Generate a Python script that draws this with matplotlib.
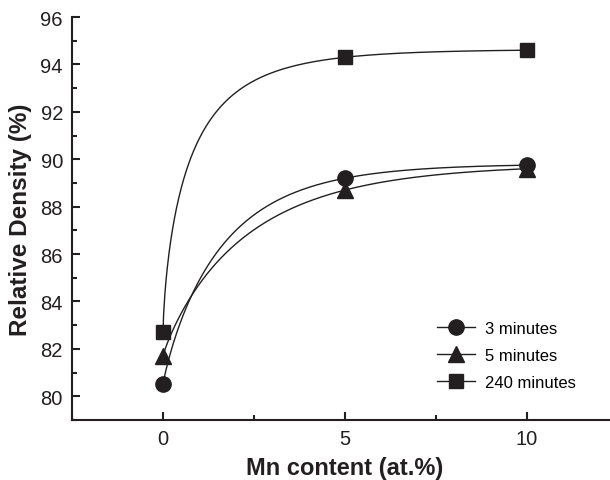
import numpy as np
import matplotlib
matplotlib.use("Agg")
import matplotlib.pyplot as plt
from matplotlib.ticker import MultipleLocator

plt.rcParams['font.family'] = ['Liberation Sans', 'DejaVu Sans']

# data
mn_content = [0, 5, 10]
dens_3min = [80.5, 89.2, 89.75]
dens_5min = [81.7, 88.7, 89.6]
dens_240min = [82.7, 94.3, 94.6]
labels = ['3 minutes', '5 minutes', '240 minutes']
markers = ['o', '^', 's']
msizes = [11, 11.5, 9.5]
fit_power = [0.9, 0.9, 0.7]   # shape of the smooth fit line


def stretched_exp(x, y, p, xs):
    # y0 + A*(1 - exp(-k*x^p)) passing through the three points
    u = np.asarray(x, float) ** p
    target = (y[1] - y[0]) / (y[2] - y[0])
    lo, hi = 1e-6, 50.0
    for _ in range(200):
        k = (lo + hi) / 2
        f = (1 - np.exp(-k * u[1])) / (1 - np.exp(-k * u[2]))
        if f < target:
            lo = k
        else:
            hi = k
    A = (y[1] - y[0]) / (1 - np.exp(-k * u[1]))
    return y[0] + A * (1 - np.exp(-k * xs ** p))


fig = plt.figure(figsize=(6.1, 4.81), dpi=100)
ax = fig.add_axes([72 / 610, 60 / 481, 546 / 610, 403 / 481])

xs = np.linspace(0, 10, 600)
series = [dens_3min, dens_5min, dens_240min]

for ys, p, lab, m, ms in zip(series, fit_power, labels, markers, msizes):
    ax.plot(xs, stretched_exp(mn_content, ys, p, xs), color='#231f20',
            lw=1.0, zorder=2)
    ax.plot(mn_content, ys, linestyle='none', marker=m, ms=ms,
            color='#231f20', zorder=3)
    ax.plot([], [], color='#231f20', lw=1.0, marker=m, ms=ms, label=lab)

ax.set_xlim(-2.5, 12.5)
ax.set_ylim(79, 96)
ax.xaxis.set_major_locator(MultipleLocator(5))
ax.xaxis.set_minor_locator(MultipleLocator(2.5))
ax.yaxis.set_major_locator(MultipleLocator(2))
ax.yaxis.set_minor_locator(MultipleLocator(1))

for s in ['top', 'right']:
    ax.spines[s].set_visible(False)
for s in ['left', 'bottom']:
    ax.spines[s].set_linewidth(1.5)
    ax.spines[s].set_color('#231f20')

ax.tick_params(which='major', direction='in', length=6, width=1.5,
               labelsize=14.5, colors='#231f20', pad=6.5)
ax.tick_params(which='minor', direction='in', length=3.5, width=1.5,
               colors='#231f20')

ax.set_xlabel('Mn content (at.%)', fontsize=17, fontweight='bold',
              color='#231f20', labelpad=6)
ax.set_ylabel('Relative Density (%)', fontsize=17.5, fontweight='bold',
              color='#231f20', labelpad=6)

ax.legend(loc='upper left', bbox_to_anchor=(0.668, 0.246), frameon=False,
          fontsize=12, handlelength=2.3, labelspacing=0.72,
          handletextpad=0.6, borderpad=0, borderaxespad=0)

fig.savefig('out.png', dpi=100)
